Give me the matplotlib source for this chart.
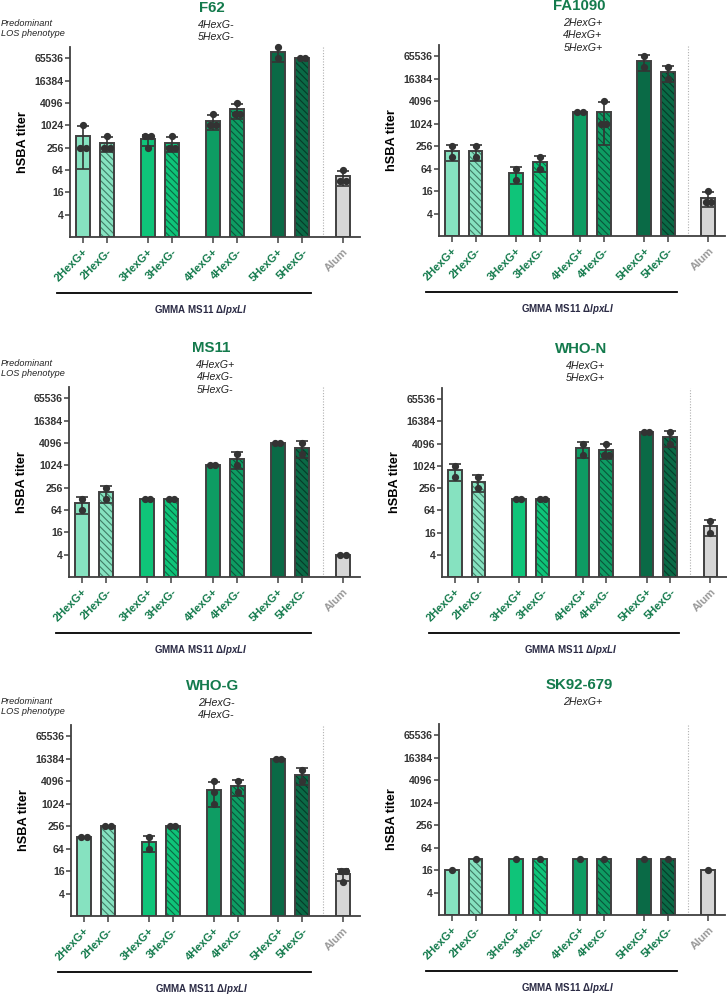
import numpy as np
import matplotlib
matplotlib.use("Agg")
import matplotlib.pyplot as plt
from matplotlib.ticker import NullLocator

plt.rcParams['font.family'] = ['Liberation Sans', 'DejaVu Sans']
plt.rcParams['mathtext.fontset'] = 'custom'
plt.rcParams['mathtext.bfit'] = 'Liberation Sans:italic:bold'
plt.rcParams['mathtext.bf'] = 'Liberation Sans:bold'
plt.rcParams['mathtext.rm'] = 'Liberation Sans'
plt.rcParams['hatch.linewidth'] = 0.8

groups = ['2HexG+', '2HexG-', '3HexG+', '3HexG-', '4HexG+', '4HexG-', '5HexG+', '5HexG-', 'Alum']

# individual titers per group (read from the points)
f62 = [[1024, 256, 256], [512, 256, 256], [512, 512, 256], [512, 256, 256], [2048, 1024, 1024],
       [4096, 2048, 2048], [131072, 65536], [65536, 65536], [64, 32, 32]]
fa1090 = [[256, 128], [256, 128], [64, 32], [128, 64], [2048, 2048],
          [4096, 1024, 1024], [65536, 32768], [32768, 16384], [16, 8, 8]]
ms11 = [[128, 64], [256, 128], [128, 128], [128, 128], [1024, 1024],
        [2048, 1024], [4096, 4096], [4096, 2048], [4, 4]]
who_n = [[1024, 512], [512, 256], [128, 128], [128, 128], [4096, 2048],
         [4096, 2048, 2048], [8192, 8192], [8192, 4096], [32, 16]]
who_g = [[128, 128], [256, 256], [128, 64], [256, 256], [4096, 2048, 1024],
         [4096, 2048], [16384, 16384], [8192, 4096], [16, 16, 8]]
sk92 = [[16], [32], [32], [32], [32], [32], [32], [32], [16]]

strains = ['F62', 'FA1090', 'MS11', 'WHO-N', 'WHO-G', 'SK92-679']
phenotypes = [['4HexG-', '5HexG-'],
              ['2HexG+', '4HexG+', '5HexG+'],
              ['4HexG+', '4HexG-', '5HexG-'],
              ['4HexG+', '5HexG+'],
              ['2HexG-', '4HexG-'],
              ['2HexG+']]
panel_data = [f62, fa1090, ms11, who_n, who_g, sk92]
yticks = [4, 16, 64, 256, 1024, 4096, 16384, 65536]

# styling
fills = ['#86e2c0', '#86e2c0', '#0fc479', '#0fc479', '#0e9c63', '#0e9c63', '#0a6a46', '#0a6a46', '#d6d6d6']
hatch_cols = [None, '#3f7d66', None, '#0a6a44', None, '#08553a', None, '#063a28', None]
green = '#137a4c'
edge = '#404040'
xpos = [0, 1, 2.7, 3.7, 5.4, 6.4, 8.1, 9.1, 10.8]

W, H = 727, 997
fig = plt.figure(figsize=(W / 100, H / 100), dpi=100)

# axes boxes in pixels: left, top, right, bottom
boxes = [(70, 47, 360, 237), (439, 45, 725, 236),
         (69, 387, 360, 577), (442, 388, 727, 577),
         (71, 725, 360, 916), (439, 724, 725, 915)]


def ftxt(x, y, s, **kw):
    fig.text(x / W, 1 - y / H, s, **kw)


for i, (name, pheno, data, box) in enumerate(zip(strains, phenotypes, panel_data, boxes)):
    l, t, r, b = box
    ax = fig.add_axes([l / W, 1 - b / H, (r - l) / W, (b - t) / H])
    ax.set_yscale('log', base=2)
    ax.set_ylim(1, 131072)
    ax.set_xlim(-0.54, 11.5)

    for j, vals in enumerate(data):
        vals = np.array(vals, dtype=float)
        m = vals.mean()
        x = xpos[j]
        ax.bar(x, m - 1, bottom=1, width=0.58, color=fills[j], edgecolor='none', zorder=2)
        if hatch_cols[j]:
            ax.bar(x, m - 1, bottom=1, width=0.58, color='none', edgecolor=hatch_cols[j],
                   hatch='\\' * 5, linewidth=0, zorder=2)
        ax.bar(x, m - 1, bottom=1, width=0.58, color='none', edgecolor=edge, linewidth=1.4, zorder=3)
        if len(vals) > 1:
            sd = vals.std(ddof=1)
            if sd > 0:
                ax.errorbar(x, m, yerr=[[min(sd, m - 1)], [sd]], fmt='none', ecolor='#333333',
                            elinewidth=1.2, capsize=4, capthick=1.2, zorder=4)
        # points, spread sideways when equal
        for v in np.unique(vals):
            n = int((vals == v).sum())
            offs = (np.arange(n) - (n - 1) / 2) * 0.22
            ax.plot(x + offs, [v] * n, 'o', color='#333333', ms=4.2, zorder=5, clip_on=False)

    ax.axvline(9.95, color='#b0b0b0', lw=0.8, ls=(0, (1, 1.5)), zorder=1)

    for side in ['top', 'right']:
        ax.spines[side].set_visible(False)
    for side in ['left', 'bottom']:
        ax.spines[side].set_color(edge)
        ax.spines[side].set_linewidth(1.3)

    ax.set_yticks(yticks)
    ax.set_yticklabels([str(v) for v in yticks], fontsize=7.6, fontweight='bold', color='#333333')
    ax.yaxis.set_minor_locator(NullLocator())
    ax.tick_params(axis='y', length=3.5, width=1.1, color=edge, pad=1)
    ax.set_xticks(xpos)
    ax.set_xticklabels(groups, rotation=45, ha='right', va='top', rotation_mode='anchor',
                       fontsize=8, fontweight='bold')
    for lab in ax.get_xticklabels():
        lab.set_color('#999999' if lab.get_text() == 'Alum' else green)
    ax.tick_params(axis='x', length=4, width=1.1, color=edge, pad=3)
    ax.set_ylabel('hSBA titer', fontsize=9.2, fontweight='bold', labelpad=4)

    # bracket and group label under the GMMA bars
    tr = ax.get_xaxis_transform()
    h_px = b - t
    ax.plot([-1.08, 9.46], [-56 / h_px] * 2, color='black', lw=1.3, transform=tr, clip_on=False)
    ax.text(4.9, -73 / h_px, r'GMMA MS11 Δ$\mathbfit{lpxLI}$', transform=tr, ha='center', va='center',
            fontsize=7, fontweight='bold', color='#2b2b45')

    # titles
    cx = (l + r) / 2 - 3
    ty = t - 39
    ftxt(cx, ty, name, ha='center', va='center', fontsize=10.8, fontweight='bold', color=green)
    for k, p in enumerate(pheno):
        ftxt(cx + 4, ty + 17 + 12.3 * k, p, ha='center', va='center', fontsize=7.7,
             style='italic', color='#222222')
    if i % 2 == 0:
        ftxt(1, ty + 15, 'Predominant', ha='left', va='center', fontsize=6.6, style='italic', color='#222222')
        ftxt(1, ty + 26, 'LOS phenotype', ha='left', va='center', fontsize=6.6, style='italic', color='#222222')

fig.savefig('out.png', dpi=100)
